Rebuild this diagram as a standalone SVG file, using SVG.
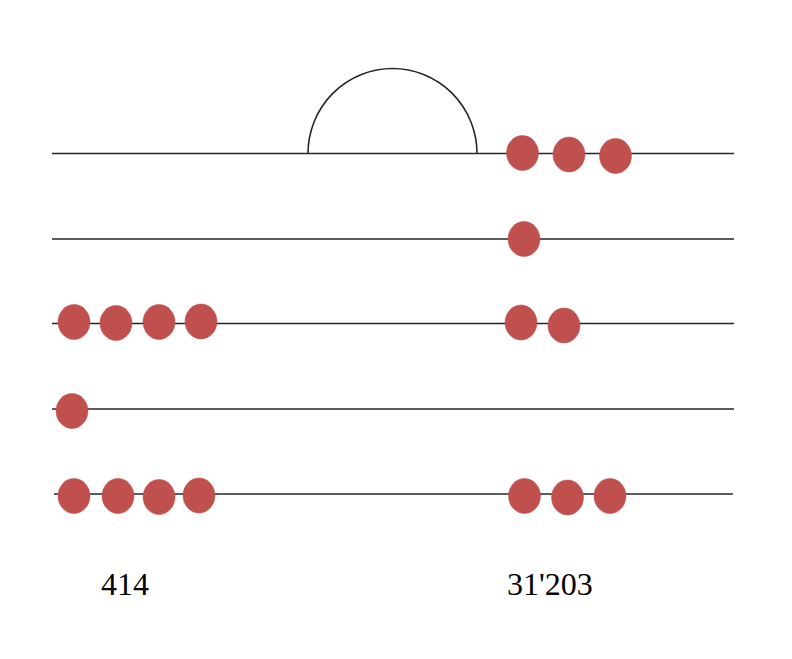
<svg xmlns="http://www.w3.org/2000/svg" width="792" height="659" viewBox="0 0 792 659">
<style>
.rod{stroke:#262626;stroke-width:1.6;fill:none}
.bead{fill:#C0504D;stroke:#C0504D;stroke-opacity:0.5;stroke-width:1}
.lbl{font-family:"Liberation Serif","Times New Roman",serif;font-size:32px;fill:#000}
</style>
<rect width="792" height="659" fill="#fff"/>
<g id="connectors">
<line class="rod" x1="52" y1="153.5" x2="734" y2="153.5"/>
<line class="rod" x1="52" y1="239" x2="734" y2="239"/>
<line class="rod" x1="52" y1="323.5" x2="734" y2="323.5"/>
<line class="rod" x1="52" y1="409" x2="734" y2="409"/>
<line class="rod" x1="54" y1="494" x2="733" y2="494"/>
<path id="arc" class="rod" d="M308 153.5 A84.5 85 0 0 1 477 153.5"/>
</g>
<g id="beads-left">
<ellipse class="bead" cx="74" cy="322" rx="16" ry="17.5"/>
<ellipse class="bead" cx="116" cy="323" rx="16" ry="17.5"/>
<ellipse class="bead" cx="159" cy="322" rx="16" ry="17.5"/>
<ellipse class="bead" cx="201" cy="321.5" rx="16" ry="17.5"/>
<ellipse class="bead" cx="72" cy="411" rx="16" ry="17.5"/>
<ellipse class="bead" cx="74" cy="496" rx="16" ry="17.5"/>
<ellipse class="bead" cx="118" cy="496" rx="16" ry="17.5"/>
<ellipse class="bead" cx="159" cy="497" rx="16" ry="17.5"/>
<ellipse class="bead" cx="199" cy="495.5" rx="16" ry="17.5"/>
</g>
<g id="beads-right">
<ellipse class="bead" cx="522.5" cy="153" rx="16" ry="17.5"/>
<ellipse class="bead" cx="569" cy="154.5" rx="16" ry="17.5"/>
<ellipse class="bead" cx="615.5" cy="156" rx="16" ry="17.5"/>
<ellipse class="bead" cx="524" cy="239" rx="16" ry="17.5"/>
<ellipse class="bead" cx="521" cy="322.5" rx="16" ry="17.5"/>
<ellipse class="bead" cx="564" cy="325.5" rx="16" ry="17.5"/>
<ellipse class="bead" cx="524.5" cy="496" rx="16" ry="17.5"/>
<ellipse class="bead" cx="567.5" cy="497.5" rx="16" ry="17.5"/>
<ellipse class="bead" cx="610" cy="496" rx="16" ry="17.5"/>
</g>
<g id="labels">
<text class="lbl" x="101" y="595">414</text>
<text class="lbl" x="507" y="595">31'203</text>
</g>
</svg>
